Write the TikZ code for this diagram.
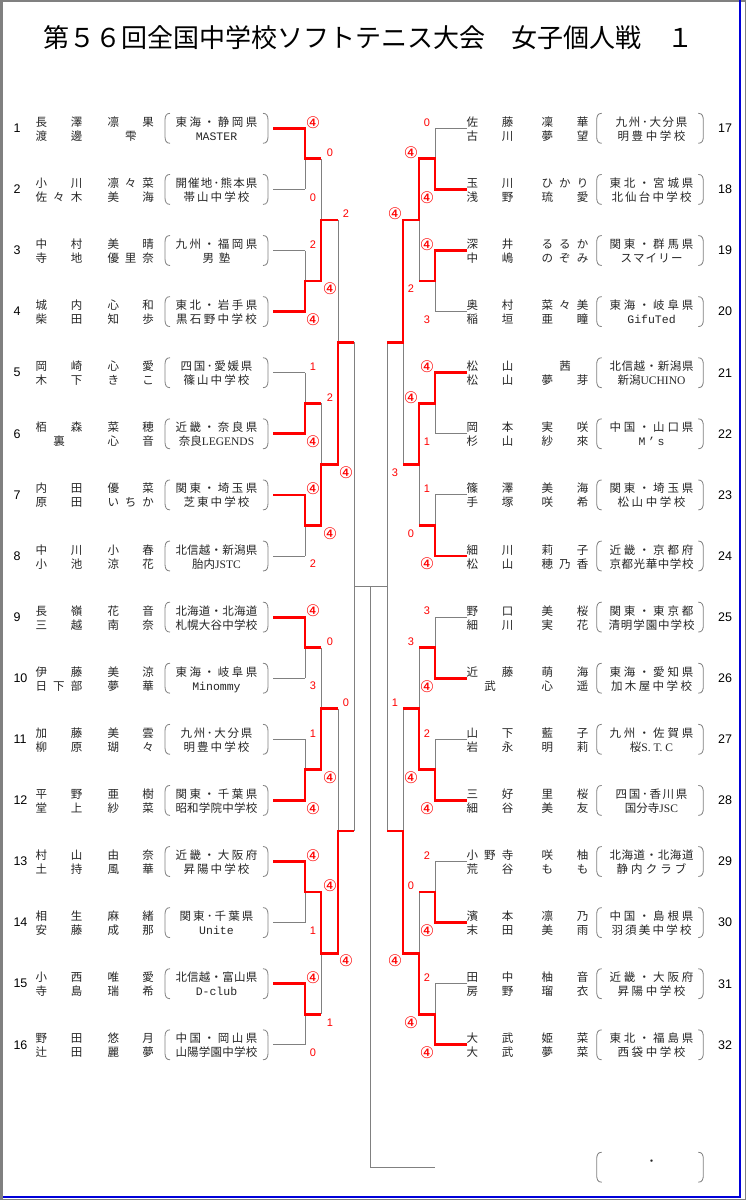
\documentclass[tikz,border=0pt]{standalone}
\usepackage{fontspec}
\setmainfont{Noto Sans CJK JP}
\newfontfamily\cjk{Noto Sans CJK JP}
\newfontfamily\ser{Liberation Serif}
\newfontfamily\mono{Liberation Mono}
\newfontfamily\arial{Liberation Sans}
\newfontfamily\dejavu{DejaVu Sans}

% spread characters evenly over a given width (single char is centred)
\def\jspend{\jspend}
\def\jsploop#1{#1\futurelet\jspnext\jspcheck}
\def\jspcheck{\ifx\jspnext\jspend\expandafter\jspstop\else\hskip 0pt plus 1fil\relax\expandafter\jsploop\fi}
\def\jspstop\jspend{}
\newcommand\jsp[2]{\hbox to #1{\hskip 0pt plus 0.001fil\relax\jsploop#2\jspend\hskip 0pt plus 0.001fil\relax}}

\pgfmathdeclarefunction{by}{2}{%
  \begingroup
  \pgfmathparse{128.3+(2^(#1)-1)*30.55+((#2)-1)*(2^(#1))*61.1}%
  \pgfmathsmuggle\pgfmathresult
  \endgroup}
\newcommand\At[2]{(#1,{by(#2)})}

\newcommand\fsN{\fontsize{11.5}{12}\selectfont}
\newcommand\fsS{\arial\fontsize{11}{12}\selectfont}
\newcommand\fsNum{\arial\fontsize{12.5}{14}\selectfont}
\newcommand\W{{\dejavu\fontsize{16}{16}\selectfont ④}}

\tikzset{
  gl/.style={draw=gray, line width=0.9pt},
  rl/.style={draw=red, line width=2.8pt, line join=miter},
  pb/.style={draw=gray, line width=0.8pt},
  nm/.style={inner sep=0pt, text=black!85, font=\fsN, text height=9.3pt, text depth=1.2pt},
  num/.style={inner sep=0pt, font=\fsNum},
  scr/.style={inner sep=0pt, text=red, font=\fsS},
}

\newcommand\brk[3]{%
  \draw[pb] (#1+5,#3-15) .. controls (#1+1,#3-15) and (#1,#3-12) .. (#1,#3-8) -- (#1,#3+8) .. controls (#1,#3+12) and (#1+1,#3+15) .. (#1+5,#3+15);
  \draw[pb] (#2-5,#3-15) .. controls (#2-1,#3-15) and (#2,#3-12) .. (#2,#3-8) -- (#2,#3+8) .. controls (#2,#3+12) and (#2-1,#3+15) .. (#2-5,#3+15);}

\newcommand\entL[7]{%
  \pgfmathsetmacro\yy{by(0,#1)}%
  \node[num, anchor=west] (nL#1) at (13.3,\yy) {#1};
  \node[nm] (fL#1a) at (59,\yy-6) {\jsp{47pt}{#2}};
  \node[nm] (gL#1a) at (130.75,\yy-6) {\jsp{46.5pt}{#3}};
  \node[nm] (fL#1b) at (59,\yy+8) {\jsp{47pt}{#4}};
  \node[nm] (gL#1b) at (130.75,\yy+8) {\jsp{46.5pt}{#5}};
  \node[nm] (pL#1) at (216.5,\yy-6) {#6};
  \node[nm] (sL#1) at (216.5,\yy+8) {#7};
  \brk{165}{268}{\yy}}

\newcommand\entR[7]{%
  \pgfmathsetmacro\yy{by(0,#1)}%
  \pgfmathtruncatemacro\nn{#1+16}%
  \node[num] (nR#1) at (725,\yy) {\nn};
  \node[nm] (fR#1a) at (490,\yy-6) {\jsp{47pt}{#2}};
  \node[nm] (gR#1a) at (565,\yy-6) {\jsp{47pt}{#3}};
  \node[nm] (fR#1b) at (490,\yy+8) {\jsp{47pt}{#4}};
  \node[nm] (gR#1b) at (565,\yy+8) {\jsp{47pt}{#5}};
  \node[nm] (pR#1) at (651.5,\yy-6) {#6};
  \node[nm] (sR#1) at (651.5,\yy+8) {#7};
  \brk{596.7}{703.3}{\yy}}

\newcommand\scores[4]{%
  \foreach \k/\a/\b in {#4} {
    \node[scr] (#1t\k) at (#2,{by(#3,2*\k-1)-6}) {\a};
    \node[scr] (#1b\k) at (#2,{by(#3,2*\k)+8}) {\b};
  }}

\begin{document}
\begin{tikzpicture}[x=1pt,y=-1pt]
\useasboundingbox (0,0) rectangle (746,1200);
\fill[white] (0,0) rectangle (746,1200);

% frame
\draw[line width=2.5pt, gray] (1.25,0) -- (1.25,1200);
\draw[line width=1.5pt, gray] (0,0.75) -- (746,0.75);
\draw[line width=1.2pt, gray] (745.4,0) -- (745.4,1200);
\draw[line width=1.2pt, gray] (0,1199.4) -- (746,1199.4);
\draw[line width=2pt, blue!85!black] (739.5,0) -- (739.5,1196.5) -- (2.5,1196.5);

% title
\node[inner sep=0pt, font=\fontsize{26}{30}\selectfont] (title) at (368.5,38) {第５６回全国中学校ソフトテニス大会　女子個人戦　１};

% ---------- gray bracket base ----------
\foreach \i in {1,...,16} {
  \draw[gl] (273,{by(0,\i)}) -- (305,{by(0,\i)});
  \draw[gl] (467,{by(0,\i)}) -- (435,{by(0,\i)});
}
\foreach \L/\xv/\xn/\n in {1/305/321/8, 2/321/338/4, 3/338/354/2} {
  \foreach \k in {1,...,\n} {
    \draw[gl] (\xv,{by(\L-1,2*\k-1)}) -- (\xv,{by(\L-1,2*\k)});
    \draw[gl] (\xv,{by(\L,\k)}) -- (\xn,{by(\L,\k)});
  }
}
\foreach \L/\xv/\xn/\n in {1/435/419/8, 2/419/403/4, 3/403/387/2} {
  \foreach \k in {1,...,\n} {
    \draw[gl] (\xv,{by(\L-1,2*\k-1)}) -- (\xv,{by(\L-1,2*\k)});
    \draw[gl] (\xv,{by(\L,\k)}) -- (\xn,{by(\L,\k)});
  }
}
\draw[gl] \At{354}{3,1} -- \At{354}{3,2};
\draw[gl] \At{387}{3,1} -- \At{387}{3,2};
\draw[gl] \At{354}{4,1} -- \At{387}{4,1};
\coordinate (fin) at (370.5,1167);
\draw[gl] \At{370.5}{4,1} -- (fin) -- (435,1167);

% ---------- red winner paths, left ----------
\draw[rl] \At{273}{0,1} -- \At{305}{0,1} -- \At{305}{1,1} -- \At{321}{1,1};
\draw[rl] \At{273}{0,4} -- \At{305}{0,4} -- \At{305}{1,2} -- \At{321}{1,2} -- \At{321}{2,1} -- \At{338}{2,1};
\draw[rl] \At{273}{0,6} -- \At{305}{0,6} -- \At{305}{1,3} -- \At{321}{1,3};
\draw[rl] \At{273}{0,7} -- \At{305}{0,7} -- \At{305}{1,4} -- \At{321}{1,4} -- \At{321}{2,2} -- \At{338}{2,2} -- \At{338}{3,1} -- \At{354}{3,1};
\draw[rl] \At{273}{0,9} -- \At{305}{0,9} -- \At{305}{1,5} -- \At{321}{1,5};
\draw[rl] \At{273}{0,12} -- \At{305}{0,12} -- \At{305}{1,6} -- \At{321}{1,6} -- \At{321}{2,3} -- \At{338}{2,3};
\draw[rl] \At{273}{0,13} -- \At{305}{0,13} -- \At{305}{1,7} -- \At{321}{1,7} -- \At{321}{2,4} -- \At{338}{2,4} -- \At{338}{3,2} -- \At{354}{3,2};
\draw[rl] \At{273}{0,15} -- \At{305}{0,15} -- \At{305}{1,8} -- \At{321}{1,8};

% ---------- red winner paths, right ----------
\draw[rl] \At{467}{0,2} -- \At{435}{0,2} -- \At{435}{1,1} -- \At{419}{1,1} -- \At{419}{2,1} -- \At{403}{2,1} -- \At{403}{3,1} -- \At{387}{3,1};
\draw[rl] \At{467}{0,3} -- \At{435}{0,3} -- \At{435}{1,2} -- \At{419}{1,2};
\draw[rl] \At{467}{0,5} -- \At{435}{0,5} -- \At{435}{1,3} -- \At{419}{1,3} -- \At{419}{2,2} -- \At{403}{2,2};
\draw[rl] \At{467}{0,8} -- \At{435}{0,8} -- \At{435}{1,4} -- \At{419}{1,4};
\draw[rl] \At{467}{0,10} -- \At{435}{0,10} -- \At{435}{1,5} -- \At{419}{1,5};
\draw[rl] \At{467}{0,12} -- \At{435}{0,12} -- \At{435}{1,6} -- \At{419}{1,6} -- \At{419}{2,3} -- \At{403}{2,3};
\draw[rl] \At{467}{0,14} -- \At{435}{0,14} -- \At{435}{1,7} -- \At{419}{1,7};
\draw[rl] \At{467}{0,16} -- \At{435}{0,16} -- \At{435}{1,8} -- \At{419}{1,8} -- \At{419}{2,4} -- \At{403}{2,4} -- \At{403}{3,2} -- \At{387}{3,2};

% ---------- scores ----------
\scores{sa}{313}{0}{1/\W/0,2/2/\W,3/1/\W,4/\W/2,5/\W/3,6/1/\W,7/\W/1,8/\W/0}
\scores{sb}{330}{1}{1/0/\W,2/2/\W,3/0/\W,4/\W/1}
\scores{sc}{346}{2}{1/2/\W,2/0/\W}
\scores{sd}{427}{0}{1/0/\W,2/\W/3,3/\W/1,4/1/\W,5/3/\W,6/2/\W,7/2/\W,8/2/\W}
\scores{se}{411}{1}{1/\W/2,2/\W/0,3/3/\W,4/0/\W}
\scores{sf}{395}{2}{1/\W/3,2/1/\W}

% ---------- entries, left ----------
\entL{1}{長澤}{凛果}{渡邊}{雫}{\jsp{82pt}{東海・静岡県}}{{\mono MASTER}}
\entL{2}{小川}{凛々菜}{佐々木}{美海}{\jsp{82pt}{開催地･熊本県}}{\jsp{66pt}{帯山中学校}}
\entL{3}{中村}{美晴}{寺地}{優里奈}{\jsp{82pt}{九州・福岡県}}{\jsp{28pt}{男塾}}
\entL{4}{城内}{心和}{柴田}{知歩}{\jsp{82pt}{東北・岩手県}}{\jsp{81pt}{黒石野中学校}}
\entL{5}{岡崎}{心愛}{木下}{きこ}{\jsp{72pt}{四国･愛媛県}}{\jsp{66pt}{篠山中学校}}
\entL{6}{栢森}{菜穂}{裏}{心音}{\jsp{82pt}{近畿・奈良県}}{奈良{\ser LEGENDS}}
\entL{7}{内田}{優菜}{原田}{いちか}{\jsp{82pt}{関東・埼玉県}}{\jsp{66pt}{芝東中学校}}
\entL{8}{中川}{小春}{小池}{涼花}{\jsp{82pt}{北信越・新潟県}}{胎内{\ser JSTC}}
\entL{9}{長嶺}{花音}{三越}{南奈}{\jsp{82pt}{北海道・北海道}}{\jsp{82pt}{札幌大谷中学校}}
\entL{10}{伊藤}{美涼}{日下部}{夢華}{\jsp{82pt}{東海・岐阜県}}{{\mono Minommy}}
\entL{11}{加藤}{美雲}{柳原}{瑚々}{\jsp{72pt}{九州･大分県}}{\jsp{66pt}{明豊中学校}}
\entL{12}{平野}{亜樹}{堂上}{紗菜}{\jsp{82pt}{関東・千葉県}}{\jsp{82pt}{昭和学院中学校}}
\entL{13}{村山}{由奈}{土持}{風華}{\jsp{82pt}{近畿・大阪府}}{\jsp{66pt}{昇陽中学校}}
\entL{14}{相生}{麻緒}{安藤}{成那}{\jsp{74pt}{関東･千葉県}}{{\mono Unite}}
\entL{15}{小西}{唯愛}{寺島}{瑞希}{\jsp{82pt}{北信越・富山県}}{{\mono D-club}}
\entL{16}{野田}{悠月}{辻田}{麗夢}{\jsp{82pt}{中国・岡山県}}{\jsp{82pt}{山陽学園中学校}}

% ---------- entries, right ----------
\entR{1}{佐藤}{凜華}{古川}{夢望}{\jsp{72pt}{九州･大分県}}{\jsp{68pt}{明豊中学校}}
\entR{2}{玉川}{ひかり}{浅野}{琉愛}{\jsp{84pt}{東北・宮城県}}{\jsp{80pt}{北仙台中学校}}
\entR{3}{深井}{るるか}{中嶋}{のぞみ}{\jsp{84pt}{関東・群馬県}}{\jsp{62pt}{スマイリー}}
\entR{4}{奥村}{菜々美}{稲垣}{亜瞳}{\jsp{84pt}{東海・岐阜県}}{{\mono GifuTed}}
\entR{5}{松山}{茜}{松山}{夢芽}{\jsp{84pt}{北信越・新潟県}}{新潟{\ser UCHINO}}
\entR{6}{岡本}{実咲}{杉山}{紗來}{\jsp{84pt}{中国・山口県}}{{\mono\jsp{26pt}{M’s}}}
\entR{7}{篠澤}{美海}{手塚}{咲希}{\jsp{84pt}{関東・埼玉県}}{\jsp{68pt}{松山中学校}}
\entR{8}{細川}{莉子}{松山}{穂乃香}{\jsp{84pt}{近畿・京都府}}{\jsp{84pt}{京都光華中学校}}
\entR{9}{野口}{美桜}{細川}{実花}{\jsp{84pt}{関東・東京都}}{\jsp{86pt}{清明学園中学校}}
\entR{10}{近藤}{萌海}{武}{心遥}{\jsp{84pt}{東海・愛知県}}{\jsp{81pt}{加木屋中学校}}
\entR{11}{山下}{藍子}{岩永}{明莉}{\jsp{84pt}{九州・佐賀県}}{桜{\ser S. T. C}}
\entR{12}{三好}{里桜}{細谷}{美友}{\jsp{72pt}{四国･香川県}}{国分寺{\ser JSC}}
\entR{13}{小野寺}{咲柚}{荒谷}{もも}{\jsp{84pt}{北海道・北海道}}{\jsp{70pt}{静内クラブ}}
\entR{14}{濱本}{凛乃}{末田}{美雨}{\jsp{84pt}{中国・島根県}}{\jsp{80pt}{羽須美中学校}}
\entR{15}{田中}{柚音}{房野}{瑠衣}{\jsp{84pt}{近畿・大阪府}}{\jsp{68pt}{昇陽中学校}}
\entR{16}{大武}{姫菜}{大武}{夢菜}{\jsp{84pt}{東北・福島県}}{\jsp{68pt}{西袋中学校}}

% ---------- champion box ----------
\node[nm] (champ) at (651.5,1161.2) {・};
\brk{596.7}{703.3}{1167.2}
\end{tikzpicture}
\end{document}
